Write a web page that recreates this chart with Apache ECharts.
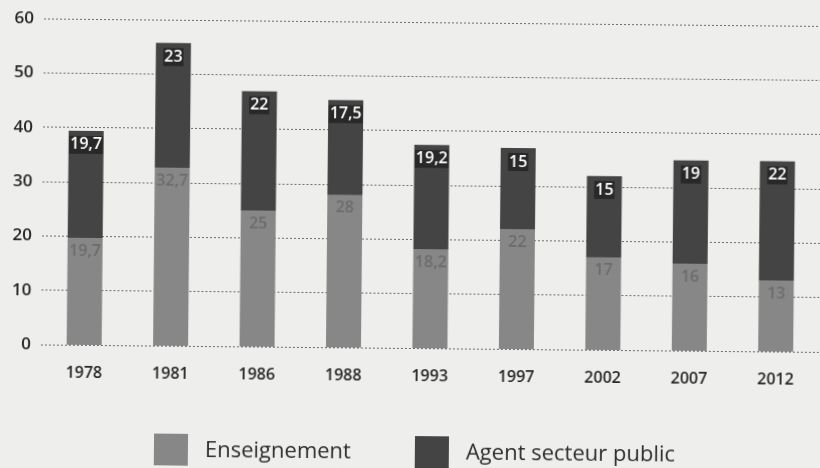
<!DOCTYPE html>
<html>
<head>
<meta charset="utf-8">
<script src="https://cdn.jsdelivr.net/npm/echarts@6/dist/echarts.min.js"></script>
<style>
  html, body { margin: 0; padding: 0; background: #eeeeec; overflow: hidden; }
  #chart { width: 820px; height: 468px; transform: rotate(0.55deg); }
</style>
</head>
<body>
<div id="chart"></div>
<script>
// années d'élection
const years = ["1978", "1981", "1986", "1988", "1993", "1997", "2002", "2007", "2012"];
// part en %
const enseignement = [19.7, 32.7, 25, 28, 18.2, 22, 17, 16, 13];
const agentPublic = [19.7, 23, 22, 17.5, 19.2, 15, 15, 19, 22];
const yTicks = [0, 10, 20, 30, 40, 50, 60];

const fmt = (p) => String(p.value).replace(".", ",");
const font = "'Open Sans', sans-serif";

const chart = echarts.init(document.getElementById("chart"));
chart.setOption({
  backgroundColor: "#eeeeec",
  animation: false,
  grid: { left: 42, right: -13, top: 22, bottom: 120 },
  legend: {
    top: 431,
    left: 151,
    itemWidth: 34,
    itemHeight: 34,
    itemGap: 64,
    icon: "rect",
    data: ["Enseignement", "Agent secteur public"],
    textStyle: { fontFamily: font, fontSize: 22, color: "#2e2e2e", padding: [0, 0, 0, 12] },
  },
  xAxis: {
    type: "category",
    data: years,
    axisLine: { show: false },
    axisTick: { show: false },
    axisLabel: { margin: 20, fontFamily: font, fontSize: 16, fontWeight: 600, color: "#262626" },
  },
  yAxis: {
    type: "value",
    min: yTicks[0],
    max: yTicks[yTicks.length - 1],
    interval: 10,
    axisLabel: { margin: 10, fontFamily: font, fontSize: 17, fontWeight: 600, color: "#262626" },
    splitLine: { lineStyle: { color: "#6e6e6e", width: 1, type: [2, 2] } },
  },
  series: [
    {
      name: "Enseignement",
      type: "bar",
      stack: "total",
      barWidth: 35,
      data: enseignement,
      itemStyle: { color: "#878787" },
      label: {
        show: true,
        position: "insideTop",
        distance: 5,
        formatter: fmt,
        fontFamily: font,
        fontSize: 16,
        fontWeight: 600,
        color: "#6c6c6c",
      },
    },
    {
      name: "Agent secteur public",
      type: "bar",
      stack: "total",
      barWidth: 35,
      data: agentPublic,
      itemStyle: { color: "#444444" },
      label: {
        show: true,
        position: "insideTop",
        distance: 5,
        formatter: fmt,
        fontFamily: font,
        fontSize: 16,
        fontWeight: 600,
        color: "#ffffff",
        backgroundColor: "#282828",
        padding: [1, 1],
      },
    },
  ],
});
</script>
</body>
</html>
